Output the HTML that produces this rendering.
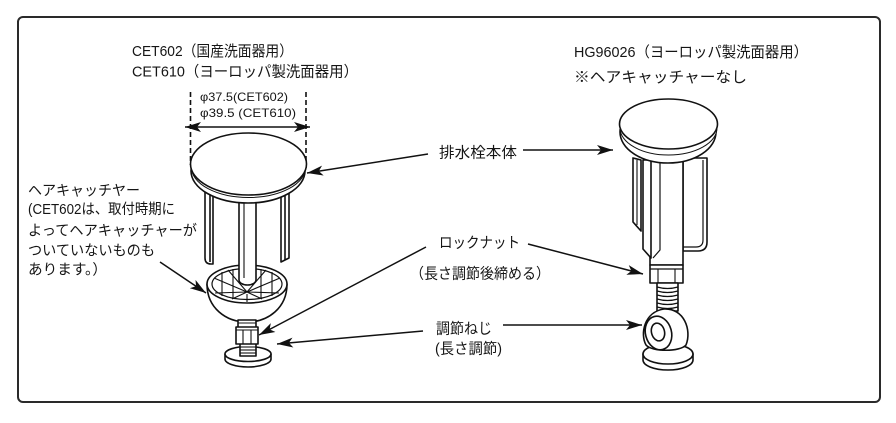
<!DOCTYPE html>
<html><head><meta charset="utf-8"><style>
html,body{margin:0;padding:0;background:#fff;}
svg{display:block;}
text{font-family:"Liberation Sans","Noto Sans CJK JP",sans-serif;fill:#151515;}
</style></head><body>
<svg width="896" height="423" viewBox="0 0 896 423" xmlns="http://www.w3.org/2000/svg">
<defs>
<marker id="ah" viewBox="0 0 16 10" refX="16" refY="5" markerWidth="16" markerHeight="10" orient="auto-start-reverse" markerUnits="userSpaceOnUse">
<path d="M0,0 L16,5 L0,10 L4,5 z" fill="#111"/>
</marker>
</defs>
<rect x="0" y="0" width="896" height="423" fill="#fff"/>
<rect x="18" y="17" width="862" height="385" rx="5" ry="5" fill="none" stroke="#2a2a2a" stroke-width="2"/>

<!-- Titles -->
<text x="132" y="56" font-size="15" textLength="161" lengthAdjust="spacingAndGlyphs">CET602（国産洗面器用）</text>
<text x="132" y="76.5" font-size="15" textLength="226" lengthAdjust="spacingAndGlyphs">CET610（ヨーロッパ製洗面器用）</text>
<text x="200" y="101" font-size="12" textLength="88" lengthAdjust="spacingAndGlyphs">φ37.5(CET602)</text>
<text x="200" y="117" font-size="12" textLength="96" lengthAdjust="spacingAndGlyphs">φ39.5 (CET610)</text>
<text x="574" y="57" font-size="15" textLength="234" lengthAdjust="spacingAndGlyphs">HG96026（ヨーロッパ製洗面器用）</text>
<text x="574" y="82" font-size="15" textLength="173" lengthAdjust="spacingAndGlyphs">※ヘアキャッチャーなし</text>

<!-- Left labels -->
<text x="28" y="195.5" font-size="14.5" textLength="112" lengthAdjust="spacingAndGlyphs">ヘアキャッチヤー</text>
<text x="28" y="214" font-size="14.5" textLength="147" lengthAdjust="spacingAndGlyphs">(CET602は、取付時期に</text>
<text x="28" y="235.5" font-size="14.5" textLength="169" lengthAdjust="spacingAndGlyphs">よってヘアキャッチャーが</text>
<text x="28" y="255.5" font-size="14.5" textLength="127" lengthAdjust="spacingAndGlyphs">ついていないものも</text>
<text x="28" y="274.5" font-size="14.5" textLength="79" lengthAdjust="spacingAndGlyphs">あります。）</text>

<!-- Middle labels -->
<text x="439" y="157.5" font-size="15" textLength="78" lengthAdjust="spacingAndGlyphs">排水栓本体</text>
<text x="439" y="247.5" font-size="15" textLength="81" lengthAdjust="spacingAndGlyphs">ロックナット</text>
<text x="410" y="278.5" font-size="15" textLength="140" lengthAdjust="spacingAndGlyphs">（長さ調節後締める）</text>
<text x="436" y="333.5" font-size="15" textLength="56" lengthAdjust="spacingAndGlyphs">調節ねじ</text>
<text x="435" y="353.5" font-size="15" textLength="67" lengthAdjust="spacingAndGlyphs">(長さ調節)</text>

<!-- Arrows -->
<g stroke="#111" stroke-width="1.5" fill="none">
<line x1="428" y1="154" x2="307" y2="173" marker-end="url(#ah)"/>
<line x1="523" y1="150" x2="613" y2="150" marker-end="url(#ah)"/>
<line x1="426" y1="247" x2="259" y2="335" marker-end="url(#ah)"/>
<line x1="528" y1="244" x2="643" y2="274" marker-end="url(#ah)"/>
<line x1="423" y1="331" x2="277" y2="344" marker-end="url(#ah)"/>
<line x1="503" y1="325" x2="642" y2="325" marker-end="url(#ah)"/>
<line x1="160" y1="262" x2="206" y2="293" marker-end="url(#ah)"/>
<line x1="185" y1="127" x2="310" y2="127" marker-start="url(#ah)" marker-end="url(#ah)"/>
</g>
<!-- dashed dimension lines -->
<g stroke="#111" stroke-width="1.6" stroke-dasharray="5,3" fill="none">
<line x1="190.5" y1="92" x2="190.5" y2="165"/>
<line x1="306" y1="92" x2="306" y2="168"/>
</g>

<!-- LEFT STOPPER -->
<g stroke="#111" stroke-width="1.6" fill="#fff" stroke-linejoin="round">
<path d="M205,192 L205,258 Q205,264 211,264 L213,264 L213,192 Z"/>
<line x1="210" y1="195" x2="210" y2="262"/>
<path d="M281,192 L281,262 L289,258 L289,192 Z"/>
<line x1="285" y1="195" x2="285" y2="260"/>
<path d="M207,284 C207,308 226,322 247,322 C268,322 287,308 287,284 Z"/>
<ellipse cx="247" cy="284" rx="40" ry="19"/>
<ellipse cx="247" cy="284" rx="35" ry="15.5" stroke-width="1.2"/>
<g stroke-width="1.1" fill="none">
<line x1="247" y1="292" x2="214" y2="278"/>
<line x1="247" y1="292" x2="228" y2="270"/>
<line x1="247" y1="292" x2="266" y2="270"/>
<line x1="247" y1="292" x2="280" y2="278"/>
<line x1="247" y1="292" x2="215" y2="293"/>
<line x1="247" y1="292" x2="279" y2="293"/>
<line x1="247" y1="292" x2="232" y2="299"/>
<line x1="247" y1="292" x2="262" y2="299"/>
<line x1="222" y1="272" x2="222" y2="296"/>
<line x1="233" y1="269" x2="233" y2="298"/>
<line x1="261" y1="269" x2="261" y2="298"/>
<line x1="272" y1="272" x2="272" y2="296"/>
<line x1="247" y1="294" x2="247" y2="302"/>
</g>
<path d="M239,196 L239,280 A8.5,5 0 0 0 256,280 L256,196 Z"/>
<line x1="244" y1="198" x2="244" y2="278" stroke-width="1.1"/>
<ellipse cx="248" cy="171" rx="57" ry="32"/>
<ellipse cx="248.5" cy="167.5" rx="57" ry="30" stroke-width="1"/>
<ellipse cx="248.5" cy="164" rx="58" ry="31"/>
<path d="M225,354 L225,359 A23,8 0 0 0 271,359 L271,354 Z"/>
<ellipse cx="248" cy="354" rx="23" ry="7.5"/>
<rect x="238" y="320" width="18" height="8"/>
<rect x="240" y="343" width="16" height="13"/>
<g stroke-width="1.1" fill="none">
<line x1="238" y1="323" x2="256" y2="323"/>
<line x1="240" y1="347" x2="256" y2="347"/>
<line x1="240" y1="350" x2="256" y2="350"/>
<line x1="240" y1="353" x2="256" y2="353"/>
</g>
<rect x="236" y="327" width="22" height="17"/>
<line x1="236" y1="330" x2="258" y2="330" stroke-width="1.1"/>
<line x1="243" y1="330" x2="243" y2="344" stroke-width="1.1"/>
<line x1="251" y1="330" x2="251" y2="344" stroke-width="1.1"/>
</g>

<!-- RIGHT STOPPER -->
<g stroke="#111" stroke-width="1.6" fill="#fff" stroke-linejoin="round">
<path d="M707,158 L707,242 Q707,251 698,251 L683,251 L683,158 Z"/>
<path d="M703,160 L703,240 Q703,247 696,247 L683,247" fill="none" stroke-width="1.2"/>
<path d="M650,160 L650,265 L683,265 L683,160 Z"/>
<path d="M660,162 L660,250 L653,258" fill="none" stroke-width="1.2"/>
<path d="M643,160 L643,249 L651,258 L651,160 Z"/>
<path d="M633,158 L633,222 L641,231 L641,160 Z"/>
<line x1="637" y1="160" x2="637" y2="225" stroke-width="1.1"/>
<ellipse cx="668" cy="132" rx="48" ry="31"/>
<ellipse cx="668.5" cy="128" rx="48.5" ry="27" stroke-width="1"/>
<ellipse cx="668.5" cy="124" rx="49" ry="25"/>
<rect x="650" y="265" width="33" height="18"/>
<line x1="650" y1="269" x2="683" y2="269" stroke-width="1.2"/>
<line x1="658" y1="269" x2="658" y2="283" stroke-width="1.1"/>
<line x1="675" y1="269" x2="675" y2="283" stroke-width="1.1"/>
<rect x="657" y="283" width="21" height="28"/>
<g stroke-width="1.3" fill="none">
<path d="M657,287 Q667.5,290 678,287"/>
<path d="M657,291 Q667.5,294 678,291"/>
<path d="M657,295 Q667.5,298 678,295"/>
<path d="M657,299 Q667.5,302 678,299"/>
<path d="M657,303 Q667.5,306 678,303"/>
<path d="M657,307 Q667.5,310 678,307"/>
</g>
<path d="M643,354 L643,360 A25,10 0 0 0 693,360 L693,354 Z"/>
<ellipse cx="668" cy="354" rx="25" ry="10"/>
<path d="M646,345 C640,334 644,312 664,309 C684,308 692,330 686,345 C680,352 652,352 646,345 Z"/>
<ellipse cx="658.5" cy="333" rx="13" ry="17" transform="rotate(-15 658.5 333)"/>
<ellipse cx="658" cy="332" rx="6.5" ry="9" transform="rotate(-15 658 332)"/>
</g>
</svg>
</body></html>
